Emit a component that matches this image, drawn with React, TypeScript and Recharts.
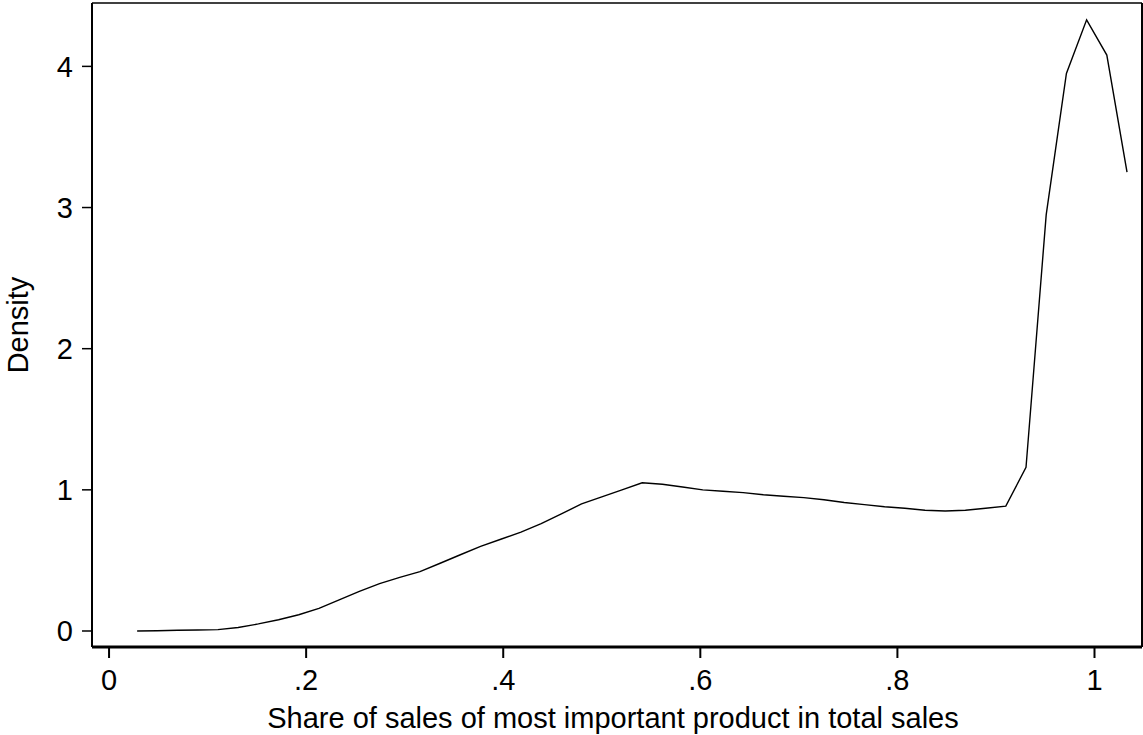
import { LineChart, Line, XAxis, YAxis, ReferenceLine, Label } from "recharts";

// kernel density estimate
const shareX = [
  0.0285, 0.049, 0.0695, 0.09, 0.1105, 0.131, 0.1515, 0.172, 0.1925, 0.213,
  0.2335, 0.254, 0.2745, 0.295, 0.3155, 0.336, 0.3565, 0.377, 0.3975, 0.418,
  0.4385, 0.459, 0.4795, 0.5, 0.5205, 0.541, 0.5615, 0.582, 0.6025, 0.623,
  0.6435, 0.664, 0.6845, 0.705, 0.7255, 0.746, 0.7665, 0.787, 0.8075, 0.828,
  0.8485, 0.869, 0.8895, 0.91, 0.9305, 0.951, 0.9715, 0.992, 1.0125, 1.033,
];

const density = [
  0.0, 0.002, 0.005, 0.007, 0.01, 0.025, 0.05, 0.08, 0.115, 0.16,
  0.22, 0.28, 0.335, 0.38, 0.42, 0.48, 0.54, 0.6, 0.65, 0.7,
  0.76, 0.83, 0.9, 0.95, 1.0, 1.05, 1.04, 1.02, 1.0, 0.99,
  0.98, 0.965, 0.955, 0.945, 0.93, 0.91, 0.895, 0.88, 0.87, 0.855,
  0.85, 0.855, 0.87, 0.885, 1.16, 2.95, 3.95, 4.33, 4.08, 3.25,
];

const xTicks = [0, 0.2, 0.4, 0.6, 0.8, 1];
const xTickLabels = ["0", ".2", ".4", ".6", ".8", "1"];
const yTicks = [0, 1, 2, 3, 4];

const X_MIN = -0.0173;
const X_MAX = 1.0482;
const Y_MIN = -0.1134;
const Y_MAX = 4.449;

const FONT = "'Liberation Sans', Arial, sans-serif";

export default function App() {
  const data = shareX.map((x, i) => ({ x, d: density[i] }));

  return (
    <div style={{ position: "absolute", left: 0, top: 0, background: "#fff" }}>
      <LineChart
        width={1143}
        height={735}
        data={data}
        margin={{ top: 3, right: 1, left: 0, bottom: 0 }}
        style={{ fontFamily: FONT }}
      >
        <XAxis
          dataKey="x"
          type="number"
          domain={[X_MIN, X_MAX]}
          allowDataOverflow
          ticks={xTicks}
          tickFormatter={(v: number) => xTickLabels[xTicks.indexOf(v)] ?? String(v)}
          height={88}
          tickSize={11}
          tickMargin={11}
          axisLine={{ stroke: "#000", strokeWidth: 3 }}
          tickLine={{ stroke: "#000", strokeWidth: 2 }}
          tick={{ fill: "#000", fontSize: 29 }}
        >
          <Label
            value="Share of sales of most important product in total sales"
            position="insideBottom"
            offset={7}
            dx={-4}
            style={{ fill: "#000", fontSize: 29 }}
          />
        </XAxis>
        <YAxis
          type="number"
          domain={[Y_MIN, Y_MAX]}
          allowDataOverflow
          ticks={yTicks}
          width={92}
          tickSize={10}
          tickMargin={9}
          axisLine={{ stroke: "#000", strokeWidth: 2 }}
          tickLine={{ stroke: "#000", strokeWidth: 1.5 }}
          tick={{ fill: "#000", fontSize: 29 }}
        >
          <Label
            content={({ viewBox }: any) => {
              const cy = viewBox.y + viewBox.height / 2;
              return (
                <text
                  x={28}
                  y={cy}
                  transform={`rotate(-90 28 ${cy})`}
                  textAnchor="middle"
                  fill="#000"
                  fontSize={29}
                  fontFamily={FONT}
                >
                  Density
                </text>
              );
            }}
          />
        </YAxis>
        <ReferenceLine y={Y_MAX} stroke="#000" strokeWidth={1.5} />
        <ReferenceLine x={X_MAX} stroke="#000" strokeWidth={2} />
        <Line
          type="linear"
          dataKey="d"
          stroke="#000"
          strokeWidth={1.4}
          dot={false}
          isAnimationActive={false}
        />
      </LineChart>
    </div>
  );
}
